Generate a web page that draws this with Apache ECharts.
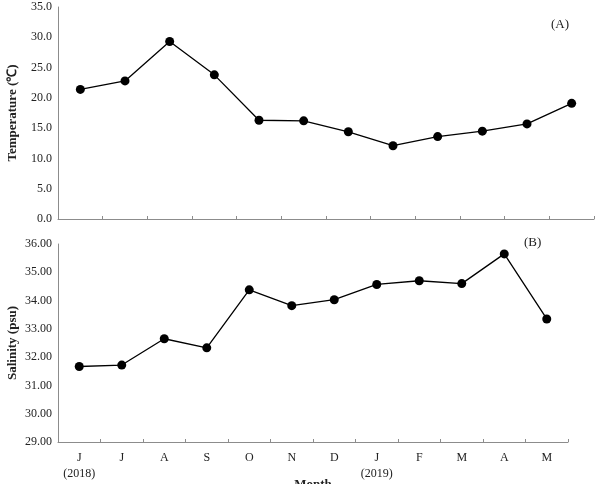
<!DOCTYPE html>
<html><head><meta charset="utf-8">
<script src="https://cdn.jsdelivr.net/npm/echarts@6/dist/echarts.min.js"></script>
<style>html,body{margin:0;padding:0;background:#fff}#c{width:600px;height:484px}</style>
</head><body><div id="c"></div>
<script>
var months = ['J','J','A','S','O','N','D','J','F','M','A','M'];
var yearLabels = ['(2018)','','','','','','','(2019)','','','',''];
var temperature = [21.4, 22.8, 29.3, 23.8, 16.3, 16.2, 14.4, 12.1, 13.6, 14.5, 15.7, 19.1];
var salinity = [31.67, 31.72, 32.65, 32.33, 34.38, 33.82, 34.03, 34.57, 34.70, 34.60, 35.65, 33.35];
var tempTicks = {min: 0, max: 35, interval: 5};
var salTicks = {min: 29, max: 36, interval: 1};

var font = '"Liberation Serif", "Times New Roman", serif';
var axisColor = '#8c8c8c';
var chart = echarts.init(document.getElementById('c'), null, {renderer: 'canvas'});
function catAxis(idx, showLabels) {
  return {
    type: 'category', gridIndex: idx, data: months, boundaryGap: true,
    axisLine: {lineStyle: {color: axisColor, width: 1}},
    axisTick: {show: true, inside: true, length: 3, alignWithLabel: false, lineStyle: {color: axisColor}},
    axisLabel: showLabels ? {
      show: true, fontFamily: font, fontSize: 12, color: '#222', margin: 8, lineHeight: 16,
      formatter: function (v, i) { return yearLabels[i] ? v + '\n' + yearLabels[i] : v; }
    } : {show: false},
    name: showLabels ? 'Month' : '', nameLocation: 'middle', nameGap: 36, nameMoveOverlap: false,
    nameTextStyle: {fontFamily: font, fontSize: 13, fontWeight: 'bold', color: '#222'},
    splitLine: {show: false}
  };
}
function valAxis(idx, t, dec, name, gap) {
  return {
    type: 'value', gridIndex: idx, min: t.min, max: t.max, interval: t.interval,
    axisLine: {show: true, lineStyle: {color: axisColor, width: 1}},
    axisTick: {show: false},
    splitLine: {show: false},
    axisLabel: {fontFamily: font, fontSize: 12, color: '#222', margin: 6,
      formatter: function (v) { return v.toFixed(dec); }},
    name: name, nameLocation: 'middle', nameGap: gap, nameRotate: 90, nameMoveOverlap: false,
    nameTextStyle: {fontFamily: font, fontSize: 13, fontWeight: 'bold', color: '#222'}
  };
}
chart.setOption({
  animation: false,
  grid: [
    {left: 58, top: 7, width: 536, height: 212, outerBoundsMode: 'none', containLabel: false},
    {left: 58, top: 244, width: 510, height: 198, outerBoundsMode: 'none', containLabel: false}
  ],
  xAxis: [catAxis(0, false), catAxis(1, true)],
  yAxis: [valAxis(0, tempTicks, 1, 'Temperature (℃)', 39), valAxis(1, salTicks, 2, 'Salinity (psu)', 39)],
  graphic: [
    {type: 'text', left: 551, top: 18, style: {text: '(A)', font: '13px ' + font, fill: '#222'}},
    {type: 'text', left: 524, top: 236, style: {text: '(B)', font: '13px ' + font, fill: '#222'}}
  ],
  series: [
    {type: 'line', xAxisIndex: 0, yAxisIndex: 0, data: temperature, symbol: 'circle', symbolSize: 9,
      itemStyle: {color: '#000'}, lineStyle: {color: '#000', width: 1.3}},
    {type: 'line', xAxisIndex: 1, yAxisIndex: 1, data: salinity, symbol: 'circle', symbolSize: 9,
      itemStyle: {color: '#000'}, lineStyle: {color: '#000', width: 1.3}}
  ]
});
</script></body></html>
